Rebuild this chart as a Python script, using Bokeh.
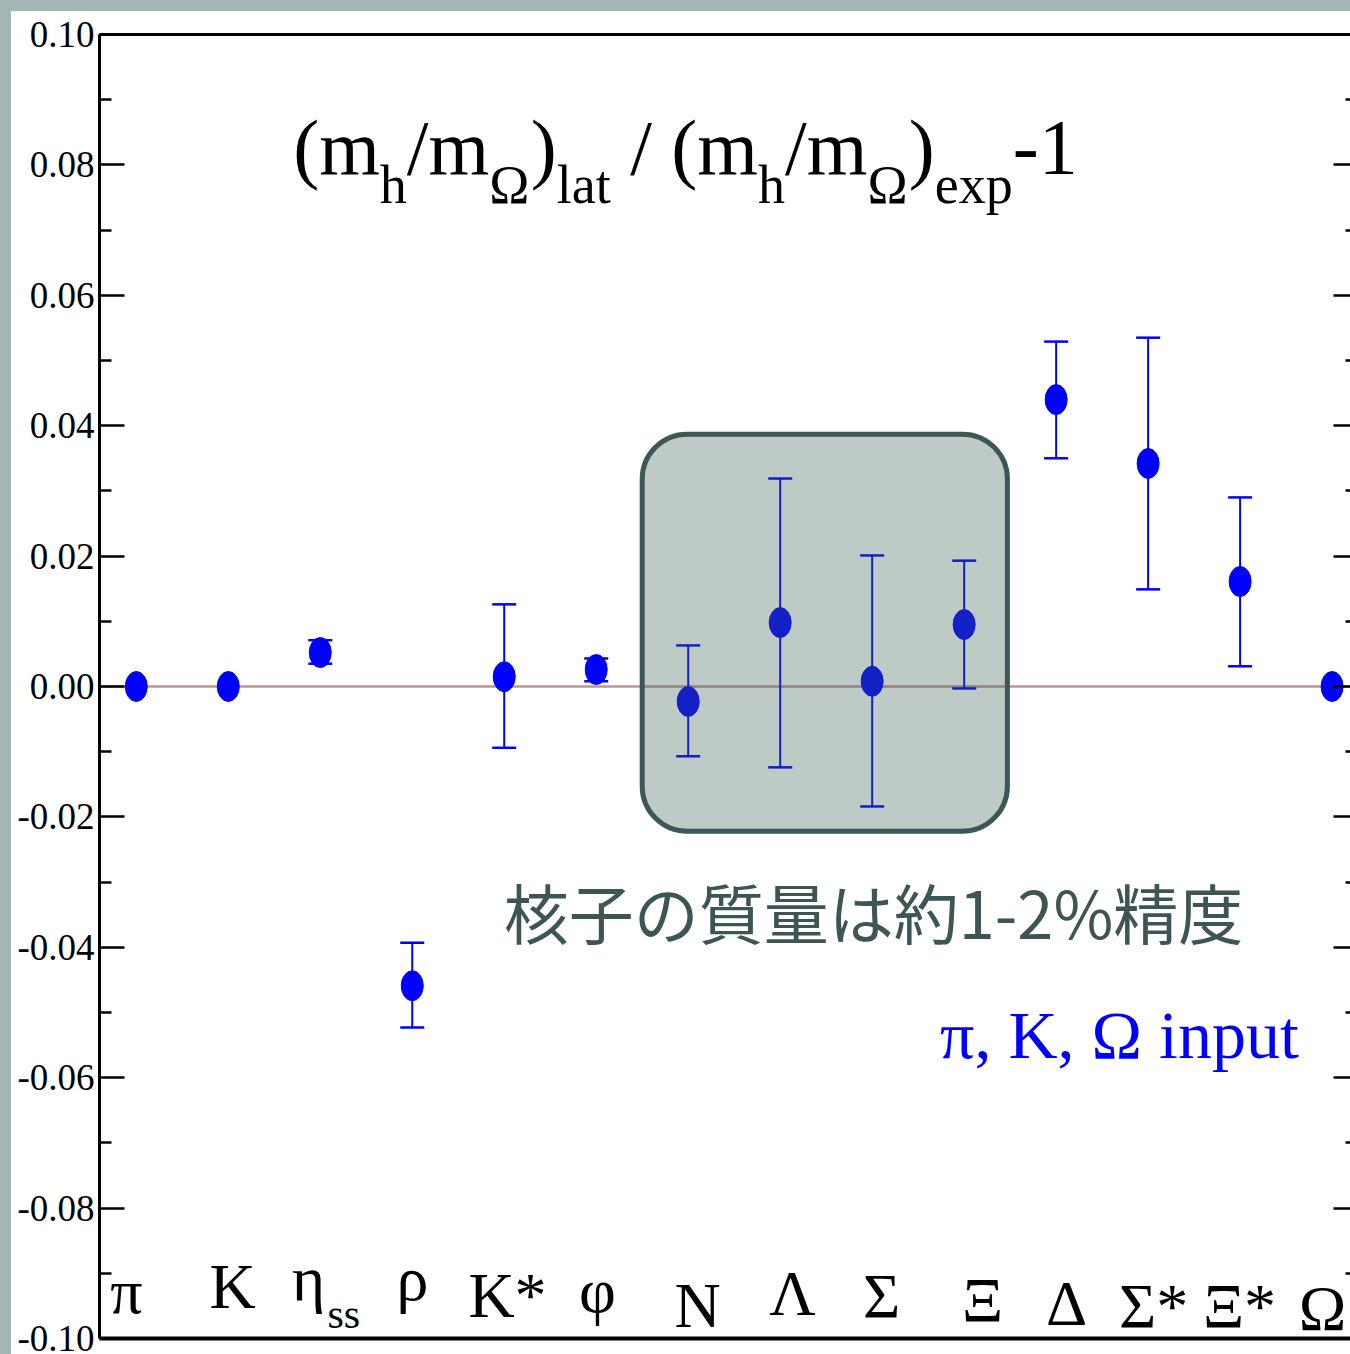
from bokeh.plotting import figure
from bokeh.models import (ColumnDataSource, Range1d, LinearAxis, FixedTicker,
                          NumeralTickFormatter, Whisker, TeeHead, Span,
                          BoxAnnotation, Label, Spacer)
from bokeh.layouts import row, column
from bokeh.core.properties import value
from bokeh.embed import file_html
from bokeh.resources import INLINE

# ---------------- data ----------------
hadrons = ["π", "K", "η", "ρ", "K*", "φ", "N", "Λ", "Σ", "Ξ", "Δ", "Σ*", "Ξ*", "Ω"]
deviation = [0.0, 0.0, 0.0052, -0.0459, 0.0015, 0.0026, -0.0023, 0.0098,
             0.0008, 0.0095, 0.0440, 0.0342, 0.0161, 0.0]
err_up = [0.0, 0.0, 0.0019, 0.0066, 0.0111, 0.0017, 0.0086, 0.0221,
          0.0193, 0.0098, 0.0089, 0.0193, 0.0129, 0.0]
err_dn = [0.0, 0.0, 0.0017, 0.0064, 0.0109, 0.0018, 0.0084, 0.0222,
          0.0192, 0.0098, 0.0090, 0.0193, 0.0130, 0.0]
y_ticks = [-0.10, -0.08, -0.06, -0.04, -0.02, 0.0, 0.02, 0.04, 0.06, 0.08, 0.10]
y_minor = [-0.09, -0.07, -0.05, -0.03, -0.01, 0.01, 0.03, 0.05, 0.07, 0.09]

xs = list(range(1, len(hadrons) + 1))

# label placement styling (window pixels): horizontal centre and baseline
label_center_px = [126, 232, 308, 412, 507, 597, 697, 792, 881, 982, 1066, 1153, 1239, 1322]
label_base_px = [1313, 1308, 1300, 1300, 1317, 1312, 1327, 1315, 1318, 1322, 1325, 1328, 1328, 1330]

# ---------------- geometry helpers (window px -> data) ----------------
X_LO, X_HI = 0.6, 14.2
Y_LO, Y_HI = -0.1, 0.1
FRAME_L, FRAME_R, FRAME_T, FRAME_B = 99, 1350, 34, 1338
XS = (FRAME_R - FRAME_L) / (X_HI - X_LO)
YS = (FRAME_B - FRAME_T) / (Y_HI - Y_LO)
MID = 0.3375  # Liberation Serif: centre of font box above baseline (em)


def px2x(px):
    return X_LO + (px - FRAME_L) / XS


def py2y(py):
    return Y_HI - (py - FRAME_T) / YS


def x2px(x):
    return FRAME_L + (x - X_LO) * XS


p = figure(width=1339, height=1343, output_backend="svg", toolbar_location=None,
           x_range=Range1d(X_LO, X_HI), y_range=Range1d(Y_LO, Y_HI),
           x_axis_type=None, y_axis_type=None,
           min_border_left=88, min_border_right=0, min_border_top=23,
           min_border_bottom=16, outline_line_color=None,
           background_fill_color="white", border_fill_color="white")

yt = FixedTicker(ticks=y_ticks, minor_ticks=y_minor)
left = LinearAxis(ticker=yt, formatter=NumeralTickFormatter(format="0.00"),
                  major_tick_in=25, major_tick_out=0, minor_tick_in=12, minor_tick_out=0,
                  axis_line_width=3, major_tick_line_width=2.5, minor_tick_line_width=2.5,
                  major_label_text_font="Liberation Serif",
                  major_label_text_font_size="37px", major_label_standoff=5,
                  major_label_text_color="black")
p.add_layout(left, "left")

right = LinearAxis(ticker=yt, major_tick_in=17, major_tick_out=0, minor_tick_in=5,
                   minor_tick_out=0, axis_line_color=None, major_tick_line_width=2.5,
                   minor_tick_line_width=2.5, major_label_text_font_size="1px",
                   major_label_text_color=None, major_label_standoff=0,
                   major_label_overrides={t: "" for t in y_ticks})
p.add_layout(right, "right")

for loc, lw in (("above", 3), ("below", 4)):
    ax = LinearAxis(ticker=FixedTicker(ticks=[]), axis_line_width=lw,
                    major_tick_in=0, major_tick_out=0, minor_tick_in=0, minor_tick_out=0,
                    major_label_text_font_size="1px", major_label_text_color=None,
                    major_label_standoff=0)
    p.add_layout(ax, loc)

# zero line
p.add_layout(Span(location=0, dimension="width", line_color="#bf9494",
                  line_width=2.5, level="underlay"))

# error bars
idx = [i for i in range(len(xs)) if err_up[i] > 0 or err_dn[i] > 0]
wsrc = ColumnDataSource(dict(
    x=[xs[i] for i in idx],
    upper=[deviation[i] + err_up[i] for i in idx],
    lower=[deviation[i] - err_dn[i] for i in idx]))
whisk = Whisker(source=wsrc, base="x", upper="upper", lower="lower",
                line_color="#0000ff", line_width=2, level="underlay",
                upper_head=TeeHead(size=24, line_color="#0000ff", line_width=2.5),
                lower_head=TeeHead(size=24, line_color="#0000ff", line_width=2.5))
p.add_layout(whisk)

src = ColumnDataSource(dict(x=xs, y=deviation))
p.ellipse(x="x", y="y", width=22, height=30, width_units="screen",
          height_units="screen", fill_color="#0000ff", line_color="#0000ff",
          source=src)

# shaded nucleon/hyperon box
p.add_layout(BoxAnnotation(left=6.5, right=10.47, top=0.0387, bottom=-0.0222,
                           fill_color="#396054", fill_alpha=0.333,
                           line_color="#3d5656", line_alpha=1.0, line_width=5,
                           border_radius=45, level="annotation"))

# hadron labels inside the frame
LS = 64
lsrc = ColumnDataSource(dict(
    x=xs,
    y=[py2y(b - MID * LS) for b in label_base_px],
    dx=[c - x2px(x) for c, x in zip(label_center_px, xs)],
    t=hadrons))
p.text(x="x", y="y", text="t", x_offset="dx", source=lsrc, text_align="center",
       text_baseline="middle", text_font=value("Liberation Serif"),
       text_font_size=value(f"{LS}px"), text_color="black")
p.add_layout(Label(x=px2x(327), y=py2y(1328 - MID * 42), text="ss",
                   text_font="Liberation Serif", text_font_size="42px",
                   text_align="left", text_baseline="middle", text_color="black"))

# title built from pieces with subscripts
M, S = 78, 54
w = {"(": 333, ")": 333, "m": 778, "h": 500, "/": 278, "l": 278, "a": 444, "t": 278,
     " ": 250, "e": 444, "x": 500, "p": 500, "-": 333, "1": 500, "Ω": 768}
pieces = [("(m", M), ("h", S), ("/m", M), ("Ω", S), (")", M), ("lat", S),
          (" / (m", M), ("h", S), ("/m", M), ("Ω", S), (")", M), ("exp", S), ("-1", M)]
widths = [sum(w[c] for c in t) * sz / 1000 for t, sz in pieces]
cur = 685 - sum(widths) / 2
for (t, sz), wd in zip(pieces, widths):
    base = 173 if sz == M else 203
    lead = len(t) - len(t.lstrip(" "))
    start = cur + lead * w[" "] * sz / 1000
    p.add_layout(Label(x=px2x(start), y=py2y(base - MID * sz), text=t.strip(" "),
                       text_font="Liberation Serif", text_font_size=f"{sz}px",
                       text_align="left", text_baseline="middle", text_color="black"))
    cur += wd

p.add_layout(Label(x=px2x(873), y=py2y(910), text="核子の質量は約1-2%精度",
                   text_font="Noto Sans CJK JP", text_font_size="65px",
                   text_align="center", text_baseline="middle", text_color="#3d5555"))
p.add_layout(Label(x=px2x(1119), y=py2y(1057 - MID * 68), text="π, K, Ω input",
                   text_font="Liberation Serif", text_font_size="68px",
                   text_align="center", text_baseline="middle", text_color="#0000ff"))

strip = "#a3b5b5"
layout = row(Spacer(width=11, height=1354, styles={"background-color": strip}),
             column(Spacer(width=1339, height=11, styles={"background-color": strip}), p))

open("out.html", "w").write(file_html(layout, INLINE))
